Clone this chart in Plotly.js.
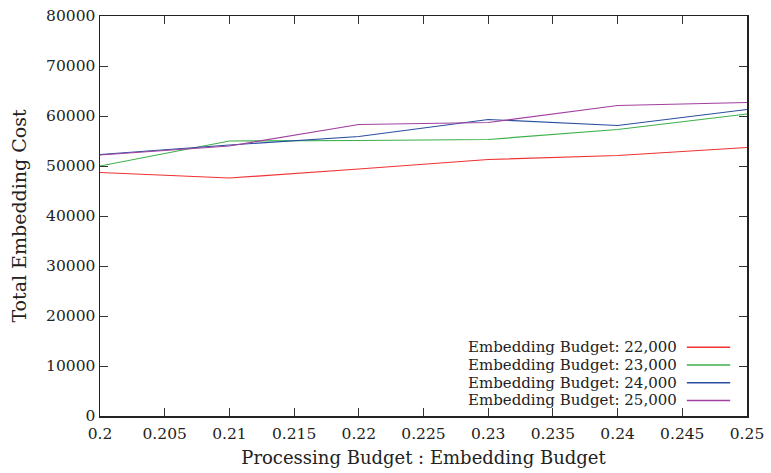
<!DOCTYPE html>
<html>
<head>
<meta charset="utf-8">
<script src="https://cdn.plot.ly/plotly-3.0.1.min.js"></script>
<style>html,body{margin:0;padding:0;background:#fff;}#chart{width:771px;height:473px;}</style>
</head>
<body>
<div id="chart"></div>
<script>
const ratios = [0.2, 0.21, 0.22, 0.23, 0.24, 0.25];
const budget22000 = [48700, 47600, 49400, 51300, 52100, 53700];
const budget23000 = [50000, 55000, 55100, 55300, 57300, 60400];
const budget24000 = [52300, 54200, 55900, 59300, 58100, 61300];
const budget25000 = [52200, 54000, 58300, 58700, 62100, 62700];
const seriesNames = ["Embedding Budget: 22,000", "Embedding Budget: 23,000", "Embedding Budget: 24,000", "Embedding Budget: 25,000"];
const xTickVals = [0.2, 0.205, 0.21, 0.215, 0.22, 0.225, 0.23, 0.235, 0.24, 0.245, 0.25];
const xTickText = ["0.2", "0.205", "0.21", "0.215", "0.22", "0.225", "0.23", "0.235", "0.24", "0.245", "0.25"];
const yTickVals = [0, 10000, 20000, 30000, 40000, 50000, 60000, 70000, 80000];
const yTickText = ["0", "10000", "20000", "30000", "40000", "50000", "60000", "70000", "80000"];

const colors = ["#f03232", "#3cb04a", "#2a4f9f", "#a040a0"];
const allSeries = [budget22000, budget23000, budget24000, budget25000];
const font = "DejaVu Serif, Liberation Serif, serif";

const traces = allSeries.map((ys, i) => ({
  x: ratios, y: ys, type: 'scatter', mode: 'lines', name: seriesNames[i],
  line: {color: colors[i], width: 1.2}, showlegend: false
}));

const legendY = [0.172, 0.1275, 0.083, 0.039];
const annotations = seriesNames.map((n, i) => ({
  xref: 'paper', yref: 'paper', x: 0.895, y: legendY[i], text: n, showarrow: false,
  xanchor: 'right', yanchor: 'middle', font: {family: font, size: 15, color: '#222'}
}));
const shapes = seriesNames.map((n, i) => ({
  type: 'line', xref: 'paper', yref: 'paper', x0: 0.907, x1: 0.974, y0: legendY[i], y1: legendY[i],
  line: {color: colors[i], width: 1.5}
}));

const axisCommon = {
  showgrid: false, zeroline: false, showline: true, mirror: 'allticks',
  linecolor: '#222', linewidth: 1.5, ticks: 'inside', ticklen: 8, tickcolor: '#333', tickwidth: 1,
  tickfont: {family: font, size: 15.5, color: '#222'}
};

const layout = {
  width: 771, height: 473,
  margin: {l: 100, r: 24, t: 16, b: 57},
  paper_bgcolor: '#fff', plot_bgcolor: '#fff',
  xaxis: Object.assign({}, axisCommon, {
    range: [0.2, 0.25], tickmode: 'array', tickvals: xTickVals, ticktext: xTickText,
    ticklabelstandoff: 3,
    title: {text: 'Processing Budget : Embedding Budget', font: {family: font, size: 18, color: '#222'}, standoff: 9}
  }),
  yaxis: Object.assign({}, axisCommon, {
    range: [0, 80000], tickmode: 'array', tickvals: yTickVals, ticktext: yTickText,
    title: {text: 'Total Embedding Cost', font: {family: font, size: 19, color: '#222'}, standoff: 14}
  }),
  annotations: annotations, shapes: shapes
};

Plotly.newPlot('chart', traces, layout, {staticPlot: true, displayModeBar: false});
</script>
</body>
</html>
